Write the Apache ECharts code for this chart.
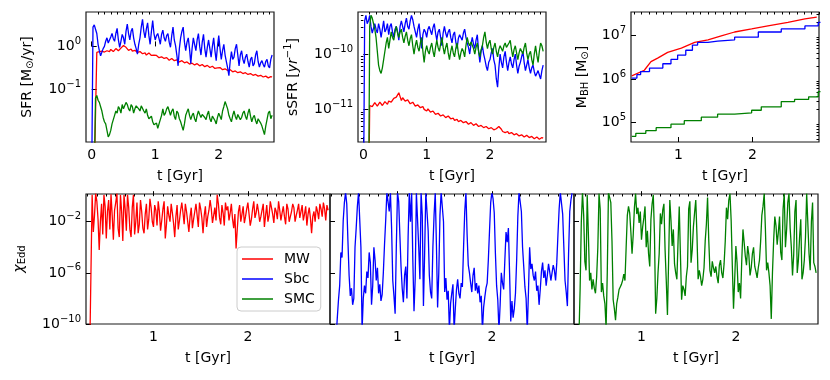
<!DOCTYPE html>
<html>
<head>
<meta charset="utf-8">
<script src="https://cdn.jsdelivr.net/npm/echarts@6/dist/echarts.min.js"></script>
<style>
  html, body { margin: 0; padding: 0; background: #fff; }
  #chart { width: 830px; height: 380px; }
</style>
</head>
<body>
<div id="chart"></div>
<script>
// all y values are log10 of the plotted quantity

// top row time grid [Gyr]
const tTop = [0,0.02,0.04,0.06,0.08,0.1,0.12,0.14,0.16,0.18,
  0.2,0.22,0.24,0.26,0.28,0.3,0.32,0.34,0.36,0.38,
  0.4,0.42,0.44,0.46,0.48,0.5,0.52,0.54,0.56,0.58,
  0.6,0.62,0.64,0.66,0.68,0.7,0.72,0.74,0.76,0.78,
  0.8,0.82,0.84,0.86,0.88,0.9,0.92,0.94,0.96,0.98,
  1,1.02,1.04,1.06,1.08,1.1,1.12,1.14,1.16,1.18,
  1.2,1.22,1.24,1.26,1.28,1.3,1.32,1.34,1.36,1.38,
  1.4,1.42,1.44,1.46,1.48,1.5,1.52,1.54,1.56,1.58,
  1.6,1.62,1.64,1.66,1.68,1.7,1.72,1.74,1.76,1.78,
  1.8,1.82,1.84,1.86,1.88,1.9,1.92,1.94,1.96,1.98,
  2,2.02,2.04,2.06,2.08,2.1,2.12,2.14,2.16,2.18,
  2.2,2.22,2.24,2.26,2.28,2.3,2.32,2.34,2.36,2.38,
  2.4,2.42,2.44,2.46,2.48,2.5,2.52,2.54,2.56,2.58,
  2.6,2.62,2.64,2.66,2.68,2.7,2.72,2.74,2.76,2.78,
  2.8,2.82,2.84];

// SFR [Msun/yr]
const logSfrMW = [-3,-3,-3,-3,-0.14,-0.1,-0.12,-0.15,-0.11,-0.09,
  -0.13,-0.1,-0.1,-0.14,-0.12,-0.07,-0.08,-0.12,-0.1,-0.05,
  -0.06,-0.1,-0.09,-0.04,-0.03,0.02,0.05,-0.02,-0.05,-0.09,
  -0.1,-0.06,-0.11,-0.12,-0.09,-0.11,-0.14,-0.1,-0.12,-0.16,
  -0.17,-0.13,-0.15,-0.2,-0.19,-0.15,-0.17,-0.21,-0.22,-0.2,
  -0.24,-0.21,-0.23,-0.26,-0.27,-0.24,-0.25,-0.28,-0.29,-0.26,
  -0.28,-0.32,-0.31,-0.28,-0.3,-0.33,-0.34,-0.31,-0.33,-0.36,
  -0.36,-0.33,-0.35,-0.38,-0.39,-0.36,-0.38,-0.41,-0.41,-0.39,
  -0.4,-0.43,-0.43,-0.4,-0.42,-0.45,-0.45,-0.42,-0.44,-0.47,
  -0.47,-0.44,-0.46,-0.49,-0.49,-0.46,-0.48,-0.51,-0.51,-0.5,
  -0.52,-0.49,-0.51,-0.54,-0.55,-0.52,-0.53,-0.56,-0.57,-0.54,
  -0.56,-0.59,-0.6,-0.57,-0.58,-0.61,-0.62,-0.59,-0.61,-0.63,
  -0.64,-0.61,-0.63,-0.65,-0.66,-0.63,-0.65,-0.67,-0.68,-0.65,
  -0.66,-0.69,-0.7,-0.67,-0.69,-0.71,-0.72,-0.69,-0.7,-0.73,
  -0.73,-0.7,-0.71];
const logSfrSbc = [-3,0.45,0.5,0.4,0.3,0.05,-0.1,-0.22,-0.2,-0.05,
  0.0,0.12,0.2,0.08,0.05,0.22,0.3,0.18,0.12,0.3,
  0.42,0.15,-0.02,0.12,0.28,0.2,0.05,0.35,0.52,0.3,
  0.15,0.35,0.42,0.2,0.05,-0.05,-0.18,0.05,0.2,0.45,
  0.63,0.35,0.2,0.4,0.55,0.25,0.05,0.35,0.6,0.3,
  0.15,0.25,0.3,0.18,0.05,0.28,0.38,0.2,0.12,0.25,
  0.3,0.1,-0.02,0.25,0.45,0.15,0.02,-0.2,-0.45,-0.05,
  0.2,0.35,0.45,0.1,-0.1,0.1,0.2,-0.05,-0.4,-0.05,
  0.2,0.05,-0.1,0.15,0.3,0.0,-0.2,0.1,0.28,-0.05,
  -0.25,-0.02,0.15,-0.05,-0.25,0.0,0.2,-0.1,-0.33,0.0,
  0.25,-0.05,-0.3,-0.1,0.05,-0.2,-0.35,-0.5,-0.68,-0.35,
  -0.12,-0.3,-0.25,-0.05,0.05,-0.2,-0.45,-0.2,-0.1,-0.3,
  -0.4,-0.25,-0.18,-0.35,-0.48,-0.3,-0.25,-0.45,-0.4,-0.2,
  -0.1,-0.35,-0.48,-0.38,-0.33,-0.42,-0.48,-0.35,-0.3,-0.45,
  -0.5,-0.3,-0.2];
const logSfrSMC = [-3,-3,-3,-1.2,-1.14,-1.25,-1.3,-1.4,-1.5,-1.65,
  -1.75,-1.8,-1.95,-2.1,-2.05,-1.95,-1.8,-1.7,-1.6,-1.5,
  -1.55,-1.4,-1.45,-1.55,-1.35,-1.45,-1.45,-1.3,-1.35,-1.45,
  -1.5,-1.35,-1.4,-1.55,-1.45,-1.38,-1.35,-1.45,-1.5,-1.38,
  -1.4,-1.5,-1.55,-1.45,-1.6,-1.68,-1.7,-1.62,-1.75,-1.82,
  -1.85,-1.78,-1.9,-1.8,-1.7,-1.6,-1.45,-1.6,-1.55,-1.45,
  -1.4,-1.5,-1.6,-1.5,-1.45,-1.62,-1.7,-1.5,-1.55,-1.68,
  -1.75,-1.85,-1.95,-1.8,-1.6,-1.52,-1.45,-1.6,-1.7,-1.6,
  -1.55,-1.68,-1.75,-1.6,-1.5,-1.58,-1.65,-1.58,-1.55,-1.65,
  -1.7,-1.58,-1.5,-1.68,-1.75,-1.62,-1.6,-1.72,-1.8,-1.65,
  -1.55,-1.62,-1.7,-1.5,-1.4,-1.28,-1.3,-1.45,-1.6,-1.68,
  -1.75,-1.6,-1.5,-1.62,-1.7,-1.58,-1.55,-1.7,-1.65,-1.55,
  -1.5,-1.62,-1.7,-1.55,-1.45,-1.62,-1.75,-1.65,-1.6,-1.72,
  -1.8,-1.68,-1.65,-1.78,-1.85,-1.95,-2.05,-1.85,-1.7,-1.55,
  -1.5,-1.68,-1.6];

// sSFR [1/yr]
const logSsfrMW = [-13,-13,-13,-13,-13,-10.93,-10.9,-10.95,-10.92,-10.88,
  -10.9,-10.94,-10.93,-10.87,-10.89,-10.93,-10.91,-10.86,-10.88,-10.91,
  -10.85,-10.82,-10.87,-10.84,-10.8,-10.83,-10.78,-10.75,-10.7,-10.77,
  -10.84,-10.79,-10.8,-10.85,-10.88,-10.83,-10.85,-10.9,-10.92,-10.87,
  -10.9,-10.94,-10.96,-10.92,-10.93,-10.97,-10.99,-10.95,-11.0,-11.03,
  -11.03,-10.99,-11.0,-11.05,-11.07,-11.03,-11.05,-11.09,-11.11,-11.07,
  -11.09,-11.12,-11.13,-11.1,-11.11,-11.15,-11.16,-11.12,-11.14,-11.17,
  -11.18,-11.16,-11.2,-11.17,-11.18,-11.22,-11.23,-11.2,-11.21,-11.24,
  -11.25,-11.22,-11.23,-11.27,-11.27,-11.24,-11.25,-11.29,-11.3,-11.26,
  -11.27,-11.31,-11.32,-11.29,-11.3,-11.33,-11.34,-11.31,-11.32,-11.35,
  -11.36,-11.33,-11.34,-11.37,-11.38,-11.35,-11.36,-11.31,-11.3,-11.36,
  -11.4,-11.39,-11.42,-11.41,-11.4,-11.44,-11.45,-11.42,-11.43,-11.46,
  -11.47,-11.44,-11.45,-11.48,-11.49,-11.46,-11.47,-11.5,-11.5,-11.47,
  -11.48,-11.51,-11.52,-11.49,-11.5,-11.53,-11.53,-11.5,-11.51,-11.54,
  -11.54,-11.51,-11.52];
const logSsfrSbc = [-13,-9.4,-9.3,-9.45,-9.4,-9.3,-9.5,-9.62,-9.6,-9.45,
  -9.55,-9.62,-9.45,-9.55,-9.7,-9.55,-9.4,-9.6,-9.55,-9.45,
  -9.65,-9.5,-9.45,-9.6,-9.7,-9.55,-9.5,-9.6,-9.75,-9.5,
  -9.4,-9.5,-9.6,-9.45,-9.35,-9.5,-9.55,-9.4,-9.3,-9.38,
  -9.5,-9.6,-9.7,-9.55,-9.45,-9.7,-9.9,-9.65,-9.55,-9.6,
  -9.7,-9.55,-9.5,-9.58,-9.65,-9.52,-9.45,-9.62,-9.75,-9.6,
  -9.55,-9.7,-9.85,-9.62,-9.5,-9.62,-9.7,-9.6,-9.55,-9.7,
  -9.8,-9.65,-9.6,-9.78,-9.9,-9.72,-9.65,-9.68,-9.75,-9.62,
  -9.55,-9.7,-9.8,-9.88,-10.0,-9.82,-9.7,-9.82,-9.9,-9.75,
  -9.65,-9.95,-10.15,-9.95,-9.85,-10.0,-10.1,-10.22,-10.3,-10.15,
  -10.1,-9.98,-9.9,-10.1,-10.2,-10.45,-10.6,-10.25,-10.0,-10.15,
  -10.25,-10.05,-9.95,-10.15,-10.3,-10.15,-10.05,-10.18,-10.25,-10.1,
  -10.0,-10.2,-10.35,-10.22,-10.15,-10.05,-9.95,-10.15,-10.3,-10.2,
  -10.1,-10.25,-10.35,-10.25,-10.2,-10.32,-10.4,-10.35,-10.3,-10.38,
  -10.45,-10.3,-10.2];
const logSsfrSMC = [-13,-13,-13,-13,-13,-9.5,-9.3,-9.35,-9.45,-9.55,
  -9.7,-9.95,-10.2,-10.3,-10.35,-10.25,-10.1,-9.95,-9.8,-9.7,
  -9.9,-9.75,-9.6,-9.7,-9.75,-9.6,-9.5,-9.62,-9.7,-9.6,
  -9.55,-9.7,-9.8,-9.68,-9.6,-9.75,-9.85,-9.72,-9.65,-9.85,
  -10.0,-9.85,-9.75,-9.88,-9.95,-9.8,-9.7,-9.95,-10.15,-9.95,
  -9.85,-9.95,-10.0,-9.88,-9.8,-9.95,-10.05,-9.88,-9.75,-9.88,
  -9.95,-9.82,-9.7,-9.88,-10.0,-9.88,-9.8,-9.98,-10.1,-9.95,
  -9.85,-9.98,-10.05,-9.9,-9.8,-9.98,-10.1,-9.98,-9.9,-9.95,
  -10.05,-9.85,-9.7,-9.8,-9.85,-9.78,-9.75,-9.9,-10.0,-9.88,
  -9.8,-9.95,-10.05,-9.92,-9.85,-9.7,-9.6,-9.78,-9.9,-9.8,
  -9.75,-9.9,-10.0,-9.88,-9.8,-9.95,-10.05,-9.92,-9.85,-9.88,
  -9.95,-9.85,-9.8,-9.88,-9.9,-9.8,-9.75,-9.92,-10.05,-9.92,
  -9.85,-9.98,-10.1,-9.98,-9.9,-9.92,-10.0,-9.88,-9.8,-9.98,
  -10.1,-10.0,-9.95,-10.1,-10.2,-10.0,-9.85,-10.02,-10.15,-9.95,
  -9.8,-9.85,-9.95];

// black hole mass [Msun]
const tMbhMW = [0.37,0.54,0.63,0.72,0.855,1.04,1.22,1.40,1.58,1.76,1.99,2.21,2.48,2.71,2.87];
const logMbhMW = [6.07,6.20,6.40,6.48,6.61,6.71,6.84,6.90,6.99,7.08,7.15,7.22,7.30,7.38,7.42];
const tMbhSbc = [0.37,0.44,0.49,0.61,0.79,0.90,0.99,1.10,1.19,1.26,1.40,1.53,1.76,2.08,2.39,2.71,2.89,2.92];
const logMbhSbc = [6.02,6.10,6.17,6.25,6.35,6.45,6.55,6.66,6.78,6.84,6.87,6.90,6.96,7.08,7.15,7.22,7.30,7.30];
const tMbhSMC = [0.37,0.425,0.56,0.70,0.90,1.08,1.31,1.53,1.76,1.99,2.12,2.39,2.57,2.76,2.89,2.92];
const logMbhSMC = [4.68,4.75,4.81,4.88,4.96,5.04,5.12,5.19,5.22,5.28,5.36,5.48,5.53,5.59,5.71,5.71];

// bottom row time grid [Gyr]
const tBot = [0.3,0.3125,0.325,0.3375,0.35,0.3625,0.375,0.3875,0.4,0.4125,
  0.425,0.4375,0.45,0.4625,0.475,0.4875,0.5,0.5125,0.525,0.5375,
  0.55,0.5625,0.575,0.5875,0.6,0.6125,0.625,0.6375,0.65,0.6625,
  0.675,0.6875,0.7,0.7125,0.725,0.7375,0.75,0.7625,0.775,0.7875,
  0.8,0.8125,0.825,0.8375,0.85,0.8625,0.875,0.8875,0.9,0.9125,
  0.925,0.9375,0.95,0.9625,0.975,0.9875,1,1.0125,1.025,1.0375,
  1.05,1.0625,1.075,1.0875,1.1,1.1125,1.125,1.1375,1.15,1.1625,
  1.175,1.1875,1.2,1.2125,1.225,1.2375,1.25,1.2625,1.275,1.2875,
  1.3,1.3125,1.325,1.3375,1.35,1.3625,1.375,1.3875,1.4,1.4125,
  1.425,1.4375,1.45,1.4625,1.475,1.4875,1.5,1.5125,1.525,1.5375,
  1.55,1.5625,1.575,1.5875,1.6,1.6125,1.625,1.6375,1.65,1.6625,
  1.675,1.6875,1.7,1.7125,1.725,1.7375,1.75,1.7625,1.775,1.7875,
  1.8,1.8125,1.825,1.8375,1.85,1.8625,1.875,1.8875,1.9,1.9125,
  1.925,1.9375,1.95,1.9625,1.975,1.9875,2,2.0125,2.025,2.0375,
  2.05,2.0625,2.075,2.0875,2.1,2.1125,2.125,2.1375,2.15,2.1625,
  2.175,2.1875,2.2,2.2125,2.225,2.2375,2.25,2.2625,2.275,2.2875,
  2.3,2.3125,2.325,2.3375,2.35,2.3625,2.375,2.3875,2.4,2.4125,
  2.425,2.4375,2.45,2.4625,2.475,2.4875,2.5,2.5125,2.525,2.5375,
  2.55,2.5625,2.575,2.5875,2.6,2.6125,2.625,2.6375,2.65,2.6625,
  2.675,2.6875,2.7,2.7125,2.725,2.7375,2.75,2.7625,2.775,2.7875,
  2.8,2.8125,2.825,2.8375,2.85];

// Eddington ratio
const logEddMW = [-12,-12,-12,-12,0.1,-2.8,-1.5,0.2,-0.4,-1.8,
  -4.2,-2.0,-0.6,-3.0,0.1,-0.8,-3.3,-1.2,-0.3,-2.6,
  0.15,-1.5,-3.4,-1.1,-0.5,0.2,-2.5,-3.2,0.1,-1.2,
  -3.5,0.1,-1.0,-2.7,0.1,-0.9,-2.6,-3.2,-0.9,0.1,
  -3.0,-2.0,-0.5,-2.9,-2.2,-0.3,-1.2,-2.5,-2.9,-1.4,
  -0.6,-2.6,-1.8,-0.2,-0.9,-2.0,-2.4,-0.7,-1.1,-2.3,
  -0.4,-1.2,-2.7,-1.9,-1.0,-0.4,-3.3,-2.2,-0.8,-1.5,
  -2.0,-0.6,-1.3,-2.1,-3.2,-1.6,-0.7,-2.6,-1.9,-1.1,
  -0.5,-1.3,-2.2,-0.6,-1.2,-2.0,-2.8,-1.6,-0.9,-2.5,
  -1.8,-1.2,-0.6,-1.5,-2.4,-0.5,-1.0,-1.7,-2.9,-1.5,
  -0.8,-2.4,-1.6,-1.1,-0.3,-1.0,-2.1,-1.5,-0.9,-1.9,
  0.1,-0.6,-1.7,-2.2,-0.7,-1.3,-2.3,-0.5,-1.1,-0.8,
  -1.9,-1.3,-0.6,-1.8,-2.5,-1.4,-4.1,-2.6,-1.2,-0.7,
  -2.0,-1.4,-0.8,-2.1,-1.6,-1.0,-0.5,-1.4,-2.3,-1.8,
  -1.0,-0.4,-1.7,-1.3,-0.6,-1.2,-2.0,-1.6,-1.1,-0.6,
  -2.4,-1.5,-0.7,-2.0,-1.5,-0.4,-0.9,-1.4,-2.1,-0.9,
  -1.2,-1.8,-0.4,-1.1,-1.9,-1.3,-0.8,-1.6,-2.2,-0.6,
  -1.0,-2.0,-1.6,-1.2,-0.6,-0.9,-2.0,-1.5,-1.1,-0.6,
  -1.7,-1.2,-0.7,-1.9,-1.4,-0.8,-2.3,-1.4,-0.9,-1.7,
  -2.9,-1.6,-1.2,-2.0,-0.8,-1.2,-1.8,-0.6,-1.0,-1.6,
  -0.5,-1.0,-1.9,-0.7,-1.1];
const logEddSbc = [-12,-12,-12,-12,-11,-9.5,-8.1,-7.0,-4.4,-4.8,
  -1.9,-0.5,0.3,-0.6,-3.5,-6.2,-7.8,-7.2,-8.5,-8.0,
  -4.0,-2.5,-0.8,0.3,0.3,-4.0,-10.5,-8.0,-7.0,-7.6,
  -5.9,-6.4,-4.4,-5.2,-8.5,-7.0,-4.0,-5.0,-6.6,-5.6,
  -7.6,-6.9,-8.2,-7.7,-6.0,-3.8,-1.9,0.3,0.3,-1.2,
  0.3,-2.5,-6.6,-7.8,-9.2,-4.0,0.3,-0.4,-3.0,-5.5,
  -7.2,-8.3,-6.2,-5.5,-8.0,-3.2,0.3,-2.0,0.3,-5.0,
  -9.0,-6.5,0.3,0.3,-4.0,-6.5,0.3,-1.5,-8.6,-4.5,
  0.3,0.3,-2.7,-6.2,-7.5,-8.0,-4.0,-1.5,0.3,-3.8,
  -8.7,-6.0,-1.5,0.3,0.3,-2.0,-7.5,-6.4,-8.1,-7.4,
  -10.5,-8.4,-7.6,-6.9,-10.5,-8.8,-7.3,-6.5,-7.6,-8.0,
  -6.8,-7.1,-4.0,-1.2,0.3,-3.0,-5.4,-6.0,-6.8,-7.5,
  -6.2,-5.6,-7.4,-6.8,-7.6,-7.0,-8.3,-7.8,-10.5,-8.7,
  -7.9,-7.2,-6.8,-5.0,-2.7,-0.5,0.3,-0.2,-1.3,-4.5,
  -7.0,-8.1,-10.5,-8.5,-6.0,-6.8,-7.3,-5.0,-2.8,-3.6,
  -2.5,-6.0,-9.8,-8.2,-9.5,-8.8,-7.6,-5.0,-1.6,0.3,
  0.3,-1.2,-4.0,-5.5,-7.1,-8.0,-10.5,-7.5,-4.0,-5.7,
  -5.3,-6.2,-6.6,-5.9,-7.4,-7.0,-8.5,-7.3,-5.9,-5.2,
  -6.4,-5.8,-7.0,-6.2,-5.3,-5.9,-6.6,-6.0,-5.4,-5.8,
  -6.6,-5.2,-3.0,-1.0,0.3,0.3,-1.4,-4.0,-6.6,-7.5,
  -8.6,-4.5,-1.2,-0.3,0.3];
const logEddSMC = [-12,-12,-12,-11,-7.2,-2.0,0.3,-1.5,-5.1,-5.8,
  0.1,-3.0,-6.6,-6.0,-7.3,-6.5,-7.2,-7.6,-6.3,-4.0,
  0.2,-1.0,-7.5,-6.8,-7.8,-8.4,-10.3,-6.0,0.3,0.3,
  -0.5,-3.5,-8.1,-8.8,-9.7,-8.4,-7.9,-7.3,-7.1,-6.9,
  -6.6,-6.1,-6.6,-4.0,-1.5,-0.8,-1.3,-2.8,-4.5,-3.0,
  -0.9,0.2,-1.4,-0.9,-2.1,-1.2,-3.4,-2.4,-1.7,-0.8,
  -4.0,-2.7,-4.5,-5.5,-1.8,-0.6,0.1,-3.0,-9.2,-8.0,
  -6.0,-4.5,-1.35,-2.2,-1.1,-0.6,-4.2,-6.6,-9.3,-5.0,
  -0.3,-1.9,-3.9,-2.6,-5.3,-6.0,-6.5,-3.5,-0.8,-4.6,
  -8.1,-7.0,-7.3,-7.8,-6.3,-5.5,-1.0,-0.4,-5.2,-4.2,
  -2.4,-1.3,-0.3,-3.0,-6.5,-5.8,-6.3,-7.0,-6.5,-5.6,
  -3.5,-2.2,-0.1,-3.4,-5.8,-6.3,-5.1,-5.6,-6.0,-5.5,
  -6.3,-6.8,-5.4,-5.0,-6.0,-6.4,-5.3,-3.5,-0.9,-1.8,
  -0.3,0.2,-1.9,-5.5,-8.8,-6.5,-3.9,-5.2,-7.5,-6.8,
  -8.0,-5.0,-2.6,-3.6,-4.7,-5.4,-3.9,-4.6,-6.2,-5.6,
  -4.5,-4.0,-5.5,-5.9,-6.4,-5.6,-5.0,-3.5,-1.5,-0.8,
  0.2,-2.5,-5.8,-5.2,-6.0,-7.0,-9.6,-6.0,-3.5,-1.6,
  -2.3,-3.8,-2.8,-1.6,-4.4,-5.0,-1.0,0.2,-4.0,-2.6,
  -0.5,0.2,-2.5,-4.0,-6.2,-4.6,-1.2,-0.3,-6.0,-5.0,
  -3.2,-1.8,-6.5,-6.0,-5.0,-3.2,0.2,0.2,-4.5,-5.8,
  -2.0,-0.5,-5.2,-5.5,-6.0];

// tick positions
const xTicksSfr = [0, 1, 2];
const xTicksLate = [1, 2];
const yTicksSfr = [0, -1];
const yTicksSsfr = [-10, -11];
const yTicksMbh = [5, 6, 7];
const yTicksEdd = [-10, -6, -2];
const legendNames = ['MW', 'Sbc', 'SMC'];

const FONT = 'DejaVu Sans';
const RED = '#ff0000', BLUE = '#0000ff', GREEN = '#008000';

function pow10Label(v) {
  const n = Math.round(v);
  const s = n < 0 ? '\u2212' + (-n) : String(n);
  return '{b|10}{s|' + s + '}';
}
const txt = { fontFamily: FONT, color: '#000' };
const powRich = {
  b: Object.assign({ fontSize: 14, lineHeight: 14 }, txt),
  s: Object.assign({ fontSize: 10, lineHeight: 10, padding: [0, 0, 10, 0] }, txt)
};
const nameRich = {
  n: Object.assign({ fontSize: 14, lineHeight: 14 }, txt),
  i: Object.assign({ fontSize: 14, lineHeight: 14, fontStyle: 'italic' }, txt),
  u: Object.assign({ fontSize: 10, lineHeight: 10, padding: [6, 0, 0, 0] }, txt),
  p: Object.assign({ fontSize: 10, lineHeight: 10, padding: [0, 0, 10, 0] }, txt)
};

function minorLin(min, max, majors) {
  const out = [];
  for (let k = Math.ceil(min * 10); k <= Math.floor(max * 10); k++) {
    const v = k / 10;
    if (!majors.some(m => Math.abs(m - v) < 1e-6)) out.push(v);
  }
  return out;
}
function minorLog(min, max) {
  const out = [];
  for (let n = Math.floor(min); n <= Math.ceil(max); n++) {
    for (let k = 2; k <= 9; k++) {
      const v = n + Math.log10(k);
      if (v > min && v < max) out.push(v);
    }
  }
  return out;
}

const option = {
  animation: false,
  backgroundColor: '#fff',
  grid: [], xAxis: [], yAxis: [], series: [],
  legend: {
    data: legendNames,
    orient: 'vertical',
    left: 237, top: 247,
    icon: 'rect', itemWidth: 31, itemHeight: 1.5, itemGap: 6,
    padding: [5, 6, 5, 5],
    borderColor: '#cccccc', borderWidth: 1, borderRadius: 4,
    backgroundColor: 'rgba(255,255,255,0.8)',
    selectedMode: false,
    textStyle: { fontSize: 14, fontFamily: FONT, color: '#000', padding: [0, 0, 0, 6] }
  }
};

function addPanel(p) {
  const gi = option.grid.length;
  option.grid.push({ left: p.box[0], top: p.box[1], width: p.box[2], height: p.box[3],
    show: true, borderColor: '#1a1a1a', borderWidth: 1.2, backgroundColor: 'transparent' });
  const tickStyle = { color: '#000', width: 1 };
  const xi = option.xAxis.length;
  option.xAxis.push({
    type: 'value', gridIndex: gi, min: p.x[0], max: p.x[1],
    splitLine: { show: false }, axisLine: { show: false },
    axisTick: { inside: true, length: 5, customValues: p.xTicks, lineStyle: tickStyle },
    axisLabel: Object.assign({ customValues: p.xTicks, margin: 6, fontSize: 14 }, txt),
    name: 't [Gyr]', nameLocation: 'middle', nameGap: 27,
    nameTextStyle: Object.assign({ fontSize: 14 }, txt)
  });
  option.xAxis.push({
    type: 'value', gridIndex: gi, min: p.x[0], max: p.x[1],
    splitLine: { show: false }, axisLine: { show: false }, axisLabel: { show: false },
    axisTick: { inside: true, length: 2.5, customValues: minorLin(p.x[0], p.x[1], p.xTicks), lineStyle: tickStyle }
  });
  const yi = option.yAxis.length;
  option.yAxis.push({
    type: 'value', gridIndex: gi, min: p.y[0], max: p.y[1],
    splitLine: { show: false }, axisLine: { show: false },
    axisTick: { inside: true, length: 5, customValues: p.yTicks, lineStyle: tickStyle },
    axisLabel: { show: p.yLabels, customValues: p.yTicks, margin: 5, formatter: pow10Label, rich: powRich },
    name: p.yName || '', nameLocation: 'middle', nameGap: p.yNameGap || 0, nameRotate: 90,
    nameTextStyle: { rich: nameRich }
  });
  if (p.yMinor) {
    option.yAxis.push({
      type: 'value', gridIndex: gi, min: p.y[0], max: p.y[1],
      splitLine: { show: false }, axisLine: { show: false }, axisLabel: { show: false },
      axisTick: { inside: true, length: 2.5, customValues: minorLog(p.y[0], p.y[1]), lineStyle: tickStyle }
    });
  }
  p.lines.forEach(l => {
    option.series.push({
      type: 'line', name: l[0], xAxisIndex: xi, yAxisIndex: yi,
      data: l[2].map((t, i) => [t, l[3][i]]),
      showSymbol: false, symbol: 'none', step: l[4] || false, clip: true, silent: true,
      lineStyle: { color: l[1], width: 1.3 }, itemStyle: { color: l[1] }
    });
  });
}

addPanel({ box: [86, 12, 188, 130], x: [-0.09, 2.87], xTicks: xTicksSfr, y: [-2.22, 0.80], yTicks: yTicksSfr,
  yLabels: true, yMinor: false, yName: '{n|SFR [M}{u|\u2299}{n|/yr]}', yNameGap: 52,
  lines: [['MW', RED, tTop, logSfrMW], ['Sbc', BLUE, tTop, logSfrSbc], ['SMC', GREEN, tTop, logSfrSMC]] });
addPanel({ box: [358, 12, 188, 130], x: [-0.085, 2.885], xTicks: xTicksSfr, y: [-11.59, -9.24], yTicks: yTicksSsfr,
  yLabels: true, yMinor: true, yName: '{n|sSFR [}{i|yr}{p|\u22121}{n|]}', yNameGap: 58,
  lines: [['MW', RED, tTop, logSsfrMW], ['Sbc', BLUE, tTop, logSsfrSbc], ['SMC', GREEN, tTop, logSsfrSMC]] });
addPanel({ box: [631, 12, 188, 130], x: [0.36, 2.9], xTicks: xTicksLate, y: [4.55, 7.54], yTicks: yTicksMbh,
  yLabels: true, yMinor: true, yName: '{n|M}{u|BH}{n| [M}{u|\u2299}{n|]}', yNameGap: 42,
  lines: [['MW', RED, tMbhMW, logMbhMW], ['Sbc', BLUE, tMbhSbc, logMbhSbc, 'end'], ['SMC', GREEN, tMbhSMC, logMbhSMC, 'end']] });
addPanel({ box: [86, 194, 244, 130], x: [0.285, 2.87], xTicks: xTicksLate, y: [-10, 0.17], yTicks: yTicksEdd,
  yLabels: true, yMinor: false, yName: '{i|\u03c7}{u|Edd}', yNameGap: 60,
  lines: [['MW', RED, tBot, logEddMW]] });
addPanel({ box: [330, 194, 244, 130], x: [0.285, 2.87], xTicks: xTicksLate, y: [-10, 0.17], yTicks: yTicksEdd,
  yLabels: false, yMinor: false,
  lines: [['Sbc', BLUE, tBot, logEddSbc]] });
addPanel({ box: [574, 194, 244, 130], x: [0.285, 2.87], xTicks: xTicksLate, y: [-10, 0.17], yTicks: yTicksEdd,
  yLabels: false, yMinor: false,
  lines: [['SMC', GREEN, tBot, logEddSMC]] });

const chart = echarts.init(document.getElementById('chart'));
chart.setOption(option);
</script>
</body>
</html>
